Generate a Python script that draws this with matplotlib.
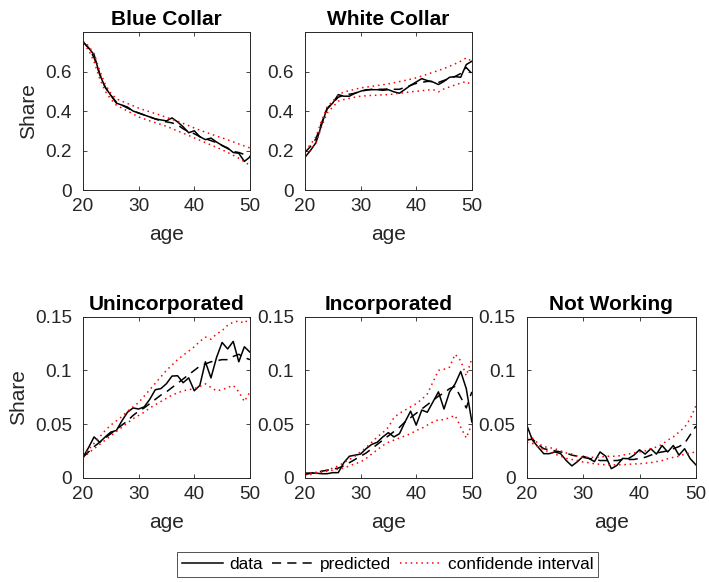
import matplotlib
matplotlib.use("Agg")
import matplotlib.pyplot as plt

plt.rcParams['font.family'] = ['Liberation Sans', 'DejaVu Sans']

age = list(range(20, 51))

# Blue Collar
blue_data = [0.75, 0.72, 0.685, 0.585, 0.52, 0.48, 0.44, 0.43, 0.42, 0.40, 0.39, 0.38, 0.37, 0.36,
             0.355, 0.35, 0.365, 0.345, 0.32, 0.29, 0.30, 0.27, 0.255, 0.263, 0.243, 0.226, 0.213,
             0.19, 0.186, 0.145, 0.167]
blue_pred = [0.75, 0.72, 0.67, 0.59, 0.52, 0.48, 0.445, 0.43, 0.415, 0.40, 0.39, 0.38, 0.37, 0.36,
             0.35, 0.345, 0.34, 0.33, 0.31, 0.295, 0.285, 0.27, 0.26, 0.25, 0.24, 0.225, 0.21,
             0.195, 0.19, 0.18, 0.17]
blue_up = [0.755, 0.73, 0.69, 0.605, 0.535, 0.49, 0.462, 0.45, 0.438, 0.427, 0.415, 0.405, 0.396,
           0.387, 0.378, 0.368, 0.358, 0.348, 0.337, 0.326, 0.314, 0.303, 0.293, 0.283, 0.273,
           0.264, 0.254, 0.244, 0.233, 0.223, 0.213]
blue_lo = [0.74, 0.71, 0.65, 0.565, 0.5, 0.46, 0.43, 0.415, 0.4, 0.385, 0.37, 0.36, 0.35, 0.341,
           0.332, 0.323, 0.311, 0.299, 0.288, 0.276, 0.264, 0.252, 0.24, 0.228, 0.216, 0.204,
           0.19, 0.176, 0.161, 0.143, 0.125]

# White Collar
white_data = [0.165, 0.20, 0.24, 0.33, 0.415, 0.44, 0.483, 0.475, 0.475, 0.49, 0.50, 0.508, 0.508,
              0.508, 0.505, 0.508, 0.497, 0.49, 0.51, 0.53, 0.547, 0.564, 0.554, 0.547, 0.534,
              0.55, 0.571, 0.574, 0.571, 0.635, 0.652]
white_pred = [0.19, 0.22, 0.26, 0.34, 0.41, 0.44, 0.47, 0.48, 0.485, 0.49, 0.50, 0.505, 0.51, 0.51,
              0.51, 0.512, 0.51, 0.51, 0.52, 0.53, 0.54, 0.545, 0.55, 0.55, 0.545, 0.555, 0.565,
              0.575, 0.59, 0.62, 0.59]
white_up = [0.20, 0.23, 0.27, 0.35, 0.42, 0.45, 0.48, 0.497, 0.503, 0.51, 0.517, 0.521, 0.525,
            0.529, 0.533, 0.537, 0.543, 0.549, 0.555, 0.561, 0.568, 0.577, 0.586, 0.596, 0.605,
            0.615, 0.627, 0.639, 0.652, 0.669, 0.652]
white_lo = [0.18, 0.20, 0.24, 0.32, 0.39, 0.42, 0.45, 0.458, 0.464, 0.47, 0.475, 0.477, 0.479,
            0.48, 0.482, 0.483, 0.486, 0.49, 0.493, 0.497, 0.50, 0.503, 0.506, 0.509, 0.497,
            0.512, 0.522, 0.532, 0.541, 0.55, 0.53]

# Unincorporated
uninc_data = [0.019, 0.028, 0.038, 0.033, 0.038, 0.0425, 0.044, 0.053, 0.061, 0.065, 0.064, 0.066,
              0.073, 0.082, 0.083, 0.0876, 0.0947, 0.095, 0.0885, 0.093, 0.081, 0.086, 0.108,
              0.093, 0.112, 0.126, 0.12, 0.127, 0.108, 0.122, 0.117]
uninc_pred = [0.019, 0.024, 0.029, 0.033, 0.037, 0.041, 0.045, 0.049, 0.053, 0.058, 0.062, 0.065,
              0.069, 0.073, 0.077, 0.080, 0.084, 0.088, 0.092, 0.096, 0.100, 0.104, 0.106, 0.108,
              0.109, 0.110, 0.110, 0.113, 0.115, 0.112, 0.110]
uninc_up = [0.02, 0.026, 0.032, 0.038, 0.044, 0.049, 0.053, 0.057, 0.062, 0.066, 0.07, 0.076,
            0.082, 0.088, 0.094, 0.10, 0.105, 0.11, 0.114, 0.118, 0.122, 0.127, 0.131, 0.129,
            0.134, 0.137, 0.142, 0.145, 0.146, 0.144, 0.149]
uninc_lo = [0.018, 0.023, 0.027, 0.031, 0.035, 0.039, 0.043, 0.047, 0.051, 0.055, 0.058, 0.061,
            0.065, 0.068, 0.071, 0.074, 0.077, 0.079, 0.081, 0.082, 0.083, 0.085, 0.0875, 0.084,
            0.081, 0.082, 0.084, 0.086, 0.08, 0.071, 0.08]

# Incorporated
inc_data = [0.0043, 0.0043, 0.0043, 0.0037, 0.0037, 0.0047, 0.0047, 0.014, 0.020, 0.021, 0.022,
            0.027, 0.031, 0.033, 0.038, 0.042, 0.038, 0.041, 0.052, 0.062, 0.049, 0.063, 0.061,
            0.0705, 0.080, 0.064, 0.080, 0.0875, 0.099, 0.083, 0.052]
inc_pred = [0.003, 0.004, 0.005, 0.006, 0.007, 0.008, 0.009, 0.011, 0.014, 0.017, 0.02, 0.023,
            0.027, 0.031, 0.035, 0.039, 0.043, 0.047, 0.052, 0.056, 0.06, 0.064, 0.068, 0.072,
            0.076, 0.079, 0.083, 0.085, 0.075, 0.065, 0.08]
inc_up = [0.003, 0.004, 0.005, 0.006, 0.007, 0.009, 0.011, 0.014, 0.017, 0.02, 0.024, 0.028,
          0.033, 0.038, 0.042, 0.047, 0.056, 0.06, 0.063, 0.066, 0.069, 0.073, 0.078, 0.089,
          0.10, 0.101, 0.103, 0.115, 0.109, 0.095, 0.111]
inc_lo = [0.002, 0.003, 0.004, 0.005, 0.006, 0.007, 0.008, 0.009, 0.011, 0.013, 0.0146, 0.018,
          0.022, 0.026, 0.03, 0.033, 0.035, 0.037, 0.039, 0.041, 0.044, 0.046, 0.049, 0.052,
          0.054, 0.054, 0.056, 0.058, 0.047, 0.037, 0.05]

# Not Working
notw_data = [0.049, 0.035, 0.0286, 0.0224, 0.0224, 0.024, 0.0224, 0.016, 0.011, 0.015, 0.020,
             0.018, 0.015, 0.024, 0.020, 0.0084, 0.0115, 0.018, 0.0177, 0.021, 0.026, 0.022, 0.027,
             0.022, 0.030, 0.024, 0.030, 0.021, 0.027, 0.0177, 0.012]
notw_pred = [0.035, 0.036, 0.031, 0.027, 0.026, 0.025, 0.024, 0.023, 0.021, 0.020, 0.019, 0.018,
             0.017, 0.016, 0.016, 0.016, 0.016, 0.017, 0.017, 0.017, 0.018, 0.019, 0.021, 0.023,
             0.024, 0.025, 0.027, 0.029, 0.032, 0.040, 0.048]
notw_up = [0.037, 0.037, 0.032, 0.029, 0.028, 0.027, 0.025, 0.023, 0.022, 0.020, 0.019, 0.019,
           0.019, 0.019, 0.020, 0.020, 0.020, 0.021, 0.022, 0.023, 0.024, 0.025, 0.027, 0.0286,
           0.031, 0.035, 0.038, 0.0425, 0.047, 0.055, 0.067]
notw_lo = [0.033, 0.032, 0.029, 0.026, 0.024, 0.022, 0.020, 0.018, 0.017, 0.016, 0.0146, 0.014,
           0.013, 0.0125, 0.012, 0.012, 0.012, 0.012, 0.0125, 0.0128, 0.013, 0.0135, 0.014, 0.015,
           0.016, 0.0177, 0.019, 0.020, 0.022, 0.023, 0.024]

panels = [
    ("Blue Collar", blue_data, blue_pred, blue_up, blue_lo),
    ("White Collar", white_data, white_pred, white_up, white_lo),
    ("Unincorporated", uninc_data, uninc_pred, uninc_up, uninc_lo),
    ("Incorporated", inc_data, inc_pred, inc_up, inc_lo),
    ("Not Working", notw_data, notw_pred, notw_up, notw_lo),
]

fig = plt.figure(figsize=(7.09, 5.82), dpi=100)
positions = [
    [0.117, 0.6735, 0.2355, 0.2715],
    [0.430, 0.6735, 0.2355, 0.2715],
    [0.117, 0.1792, 0.2355, 0.2766],
    [0.430, 0.1792, 0.2355, 0.2766],
    [0.743, 0.1792, 0.2385, 0.2766],
]
gray = '#262626'

handles = None
for i, (title, d, p, up, lo) in enumerate(panels):
    ax = fig.add_axes(positions[i])
    h1, = ax.plot(age, d, color='black', lw=1.1, label='data')
    h2, = ax.plot(age, p, color='black', lw=1.1, dashes=(6, 4), label='predicted')
    h3, = ax.plot(age, up, color='red', lw=1.1, ls=(0, (1, 2.5)), label='confidende interval')
    ax.plot(age, lo, color='red', lw=1.1, ls=(0, (1, 2.5)))
    handles = [h1, h2, h3]
    ax.set_xlim(20, 50)
    ax.set_xticks([20, 30, 40, 50])
    if i < 2:
        ax.set_ylim(0, 0.8)
        ax.set_yticks([0, 0.2, 0.4, 0.6])
        ax.set_yticklabels(['0', '0.2', '0.4', '0.6'])
    else:
        ax.set_ylim(0, 0.15)
        ax.set_yticks([0, 0.05, 0.1, 0.15])
        ax.set_yticklabels(['0', '0.05', '0.1', '0.15'])
    ax.tick_params(direction='in', top=True, right=True, length=3, width=0.6,
                   labelsize=13.7, colors=gray)
    ax.tick_params(axis='x', pad=6)
    ax.tick_params(axis='y', pad=8)
    for s in ax.spines.values():
        s.set_color(gray)
        s.set_linewidth(0.7)
    ax.set_title(title, fontsize=15, fontweight='bold', pad=5)
    ax.set_xlabel('age', fontsize=15, color=gray, labelpad=7)
    if i in (0, 2):
        ax.set_ylabel('Share', fontsize=15, color=gray, labelpad=5)

leg = fig.legend(handles, ['data', 'predicted', 'confidende interval'], ncol=3,
                 loc='center', bbox_to_anchor=(0.5465, 0.030), fontsize=12.4,
                 frameon=True, fancybox=False, edgecolor=gray, handlelength=2.4,
                 handletextpad=0.35, columnspacing=0.55, borderpad=0.3)
leg.get_frame().set_linewidth(0.7)

fig.savefig('out.png', dpi=100)
